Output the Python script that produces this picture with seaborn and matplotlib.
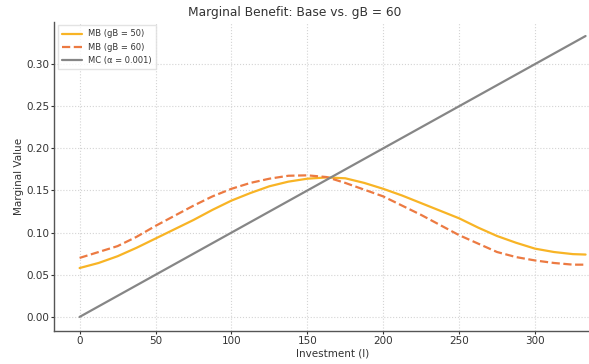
import matplotlib
matplotlib.use("Agg")
import matplotlib.pyplot as plt
import numpy as np
import pandas as pd
import seaborn as sns

# values
invest = [0, 12.5, 25, 37.5, 50, 62.5, 75, 87.5, 100, 112.5, 125, 137.5, 150, 162.5,
          175, 187.5, 200, 212.5, 225, 237.5, 250, 262.5, 275, 287.5, 300, 312.5, 325, 333.3]
mb_50 = [0.058, 0.064, 0.072, 0.082, 0.093, 0.104, 0.115, 0.127, 0.138, 0.147, 0.155, 0.1605,
         0.164, 0.1655, 0.1645, 0.159, 0.152, 0.144, 0.135, 0.126, 0.117, 0.106, 0.096, 0.088,
         0.081, 0.077, 0.0745, 0.074]
mb_60 = [0.070, 0.077, 0.084, 0.095, 0.108, 0.120, 0.132, 0.143, 0.152, 0.159, 0.164, 0.1675,
         0.168, 0.166, 0.159, 0.151, 0.143, 0.132, 0.121, 0.109, 0.097, 0.087, 0.077, 0.071,
         0.067, 0.064, 0.062, 0.062]
mc_x = [0, 333.3]
mc_y = [0, 0.3333]

sns.set_theme(style="ticks")
plt.rcParams['font.family'] = ['DejaVu Sans']
plt.rcParams['text.color'] = '#333333'
plt.rcParams['axes.labelcolor'] = '#333333'
plt.rcParams['xtick.color'] = '#333333'
plt.rcParams['ytick.color'] = '#333333'

fig = plt.figure(figsize=(5.89, 3.64), dpi=100)
ax = fig.add_axes([0.0922, 0.0907, 0.945, 0.849])

df = pd.DataFrame({'I': invest, 'mb50': mb_50, 'mb60': mb_60})
sns.lineplot(data=df, x='I', y='mb50', ax=ax, color='#f8b425', lw=1.6, label='MB (gB = 50)')
sns.lineplot(data=df, x='I', y='mb60', ax=ax, color='#ec7a42', lw=1.6, ls='--', label='MB (gB = 60)')
sns.lineplot(x=mc_x, y=mc_y, ax=ax, color='#868686', lw=1.6, label='MC (α = 0.001)')

ax.set_xlim(-16.67, 350)
ax.set_ylim(-0.0167, 0.35)
ax.set_xticks([0, 50, 100, 150, 200, 250, 300])
ax.set_yticks([0, 0.05, 0.10, 0.15, 0.20, 0.25, 0.30])
ax.yaxis.set_major_formatter(matplotlib.ticker.FormatStrFormatter('%.2f'))
ax.tick_params(labelsize=7.5, length=2, width=0.8, pad=1.5)
ax.grid(True, ls=':', color='#d4d4d4', lw=0.8)
sns.despine(ax=ax)
for s in ['left', 'bottom']:
    ax.spines[s].set_color('#555555')
    ax.spines[s].set_linewidth(1.0)

ax.set_xlabel('Investment (I)', fontsize=7.5, labelpad=2)
ax.set_ylabel('Marginal Value', fontsize=7.5, labelpad=2)
ax.set_title('Marginal Benefit: Base vs. gB = 60', fontsize=8.8, x=0.432, pad=4)
ax.legend(loc='upper left', fontsize=6, frameon=True, edgecolor='#dddddd', fancybox=False,
          handlelength=2.4, borderpad=0.5, borderaxespad=0.4)

fig.savefig('out.png', dpi=100)
